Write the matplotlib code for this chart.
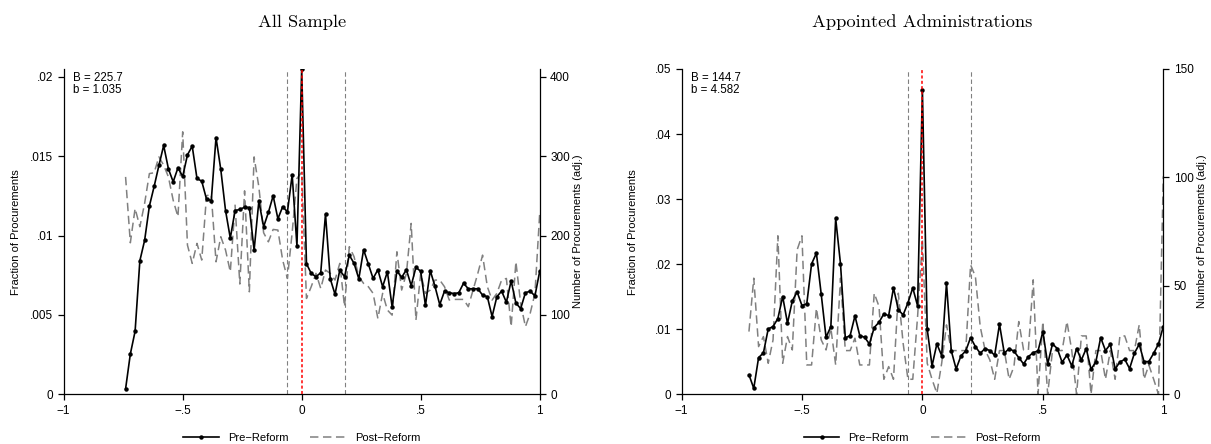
import numpy as np
import matplotlib.pyplot as plt
from matplotlib.lines import Line2D

plt.rcParams['font.family'] = ['Liberation Sans', 'DejaVu Sans']

# bin centres (running variable, bin width .02)
x_all = np.round(np.arange(-0.74, 1.0001, 0.02), 2)
x_app = np.round(np.arange(-0.72, 1.0001, 0.02), 2)

# All sample: fraction of procurements per bin (x 1e-3)
all_pre = [0.34, 2.54, 3.97, 8.42, 9.70, 11.86, 13.10, 14.42, 15.68, 14.21,
           13.39, 14.27, 13.73, 15.09, 15.64, 13.60, 13.43, 12.30, 12.21, 16.18,
           14.17, 11.58, 9.84, 11.58, 11.65, 11.79, 11.77, 9.09, 12.17, 10.56,
           11.46, 12.51, 11.06, 11.82, 11.50, 13.83, 9.34,
           20.48, 8.23, 7.62, 7.41, 7.66, 11.35, 7.28, 6.30, 7.83, 7.41,
           8.77, 8.25, 7.28, 9.11, 8.21, 7.30, 7.85, 6.78, 7.72, 5.51,
           7.77, 7.37, 7.85, 6.85, 8.00, 7.75, 5.60, 7.80, 6.80, 5.65,
           6.50, 6.40, 6.35, 6.40, 7.00, 6.65, 6.65, 6.65, 6.25, 6.15,
           4.90, 6.15, 6.50, 5.80, 7.15, 5.75, 5.40, 6.40, 6.50, 6.20, 7.75]
all_post = [13.70, 9.55, 11.71, 10.56, 12.03, 13.91, 13.96, 14.96, 14.44, 13.70,
            12.23, 11.19, 16.54, 9.40, 8.25, 9.51, 8.46, 12.51, 12.61, 8.35,
            9.93, 9.09, 7.72, 11.92, 6.95, 12.82, 6.46, 14.96, 13.07, 10.18,
            9.61, 10.39, 10.35, 8.46, 7.30, 10.20, 13.60,
            14.00, 6.04, 6.78, 7.62, 6.67, 7.83, 7.62, 7.20, 8.25, 5.52,
            9.30, 8.67, 7.41, 6.99, 6.78, 6.36, 4.78, 6.36, 5.31, 4.99,
            8.98, 6.57, 7.62, 10.77, 4.68, 7.62, 6.36, 6.57, 7.20, 7.20,
            6.78, 5.94, 5.98, 5.98, 5.98, 5.52, 6.57, 7.62, 8.77, 6.78,
            5.94, 6.36, 7.20, 7.30, 4.26, 8.35, 5.73, 4.26, 5.10, 6.36, 11.40]

# Appointed administrations (x 1e-3)
app_pre = [3.00, 0.92, 5.64, 6.36, 10.05, 10.41, 11.64, 15.03, 10.92, 14.36,
           15.74, 13.64, 13.90, 20.05, 21.69, 15.38, 8.77, 10.41, 27.03, 20.05,
           8.67, 9.03, 12.05, 9.03, 8.77, 7.74, 10.26, 11.08, 12.36, 12.10,
           16.36, 13.00, 12.20, 14.05, 16.36, 13.60,
           46.72, 10.00, 4.36, 7.74, 5.95, 17.08, 6.67, 3.90, 5.90, 6.67,
           8.72, 7.33, 6.31, 7.03, 6.72, 6.00, 10.77, 6.31, 7.03, 6.62,
           5.64, 4.67, 5.79, 6.41, 6.67, 9.64, 4.67, 7.74, 7.03, 4.92,
           6.05, 4.36, 7.03, 5.28, 7.03, 3.85, 4.97, 8.72, 6.72, 7.69,
           3.90, 4.97, 5.38, 3.95, 6.31, 7.69, 5.03, 5.03, 6.31, 7.74, 10.41]
app_post = [9.64, 17.85, 7.33, 8.87, 4.77, 8.36, 24.36, 4.77, 8.87, 6.82,
            22.21, 24.36, 4.51, 4.51, 13.23, 8.36, 6.82, 10.15, 4.51, 17.85,
            6.72, 6.72, 8.62, 4.51, 4.51, 4.51, 15.54, 13.49, 2.31, 4.26,
            2.31, 15.54, 7.85, 2.31, 2.31, 11.95,
            23.74, 4.77, 2.31, 0.15, 4.77, 10.67, 6.72, 6.72, 6.72, 6.72,
            19.90, 18.10, 10.41, 6.82, 5.28, 2.31, 6.72, 6.72, 2.31, 4.26,
            11.18, 6.82, 6.82, 17.59, 0.00, 11.18, 0.00, 6.72, 6.72, 6.72,
            11.18, 6.72, 0.00, 8.97, 8.97, 0.00, 6.72, 6.72, 2.31, 6.72,
            2.31, 8.97, 8.97, 6.72, 6.72, 10.67, 2.31, 4.51, 2.31, 0.00, 33.49]

xticks = [-1, -0.5, 0, 0.5, 1]
xticklabels = ['\u22121', '\u2212.5', '0', '.5', '1']

fig = plt.figure(figsize=(12.11, 4.44), dpi=100)


def panel(rect, x, pre, post, ymax, yticks, ylabels, scale, rticks, bw, note, title):
    ax = fig.add_axes(rect)
    pre = np.array(pre) / 1000
    post = np.array(post) / 1000
    ax.plot(x, post, color='#808080', lw=1.1, dashes=(5.5, 3), zorder=2)
    ax.plot(x, pre, color='black', lw=1.2, marker='o', ms=2.2, zorder=3)
    for v in bw:
        ax.axvline(v, color='#808080', lw=0.8, dashes=(4, 2.5), zorder=1)
    ax.axvline(0, color='red', lw=1.1, dashes=(2, 1.5), zorder=4)
    ax.set_xlim(-1, 1)
    ax.set_ylim(0, ymax)
    ax.set_xticks(xticks)
    ax.set_xticklabels(xticklabels)
    ax.set_yticks(yticks)
    ax.set_yticklabels(ylabels)
    ax.spines['top'].set_visible(False)
    ax.spines['right'].set_visible(False)
    for s in ['left', 'bottom']:
        ax.spines[s].set_linewidth(0.9)
    ax.tick_params(direction='out', length=4, width=0.9, labelsize=8.5)
    ax.set_ylabel('Fraction of Procurements', fontsize=8)
    ax.yaxis.set_label_coords(-0.09, 0.5)
    ax.text(0.019, 0.99, note, transform=ax.transAxes, va='top', ha='left',
            fontsize=8.3, linespacing=1.0)

    ax2 = ax.twinx()
    ax2.set_ylim(0, ymax * scale)
    ax2.set_yticks(rticks)
    ax2.set_yticklabels([str(t) for t in rticks])
    for s in ['top', 'left', 'bottom']:
        ax2.spines[s].set_visible(False)
    ax2.spines['right'].set_linewidth(0.9)
    ax2.tick_params(direction='out', length=4, width=0.9, labelsize=8.5)
    ax2.set_ylabel('Number of Procurements (adj.)', fontsize=8)
    ax2.yaxis.set_label_coords(1.07, 0.5)

    handles = [Line2D([], [], color='black', lw=1.2, marker='o', ms=2.2),
               Line2D([], [], color='#808080', lw=1.1, dashes=(5.5, 3))]
    ax.legend(handles, ['Pre\u2212Reform', 'Post\u2212Reform'], loc='center',
              bbox_to_anchor=(0.5, -0.133), ncol=2, frameon=False, fontsize=8,
              handlelength=3.2, columnspacing=2.0, handletextpad=0.8)

    cx = rect[0] + rect[2] / 2
    fig.text(cx, 1 - 22 / 444, title, ha='center', va='center',
             family='cmr10', fontsize=13.3)
    return ax


panel([63.7 / 1211, 1 - 394.3 / 444, 476 / 1211, 325.3 / 444], x_all, all_pre, all_post,
      0.0205, [0, 0.005, 0.01, 0.015, 0.02], ['0', '.005', '.01', '.015', '.02'],
      20000, [0, 100, 200, 300, 400], [-0.06, 0.18],
      'B = 225.7\nb = 1.035', 'All Sample')
panel([681.5 / 1211, 1 - 394.3 / 444, 481.8 / 1211, 325.3 / 444], x_app, app_pre, app_post,
      0.05, [0, 0.01, 0.02, 0.03, 0.04, 0.05], ['0', '.01', '.02', '.03', '.04', '.05'],
      3000, [0, 50, 100, 150], [-0.06, 0.2],
      'B = 144.7\nb = 4.582', 'Appointed Administrations')

fig.savefig('out.png', dpi=100)
